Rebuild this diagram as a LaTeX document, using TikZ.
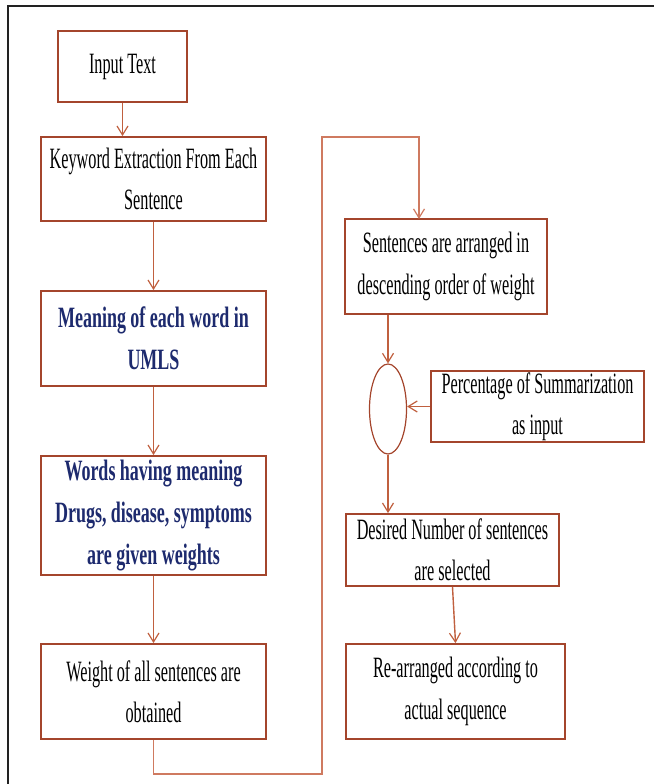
\documentclass[tikz,border=0pt]{standalone}
\usepackage{fontspec}
\setmainfont[FakeStretch=0.55]{Liberation Serif}
\newfontfamily\bluefont[FakeStretch=0.61]{Liberation Serif}
\usetikzlibrary{arrows.meta,shapes.geometric}
\definecolor{boxline}{HTML}{A4452C}
\definecolor{conn}{HTML}{C0603F}
\definecolor{loopc}{HTML}{CF7A60}
\definecolor{navy}{HTML}{1D2A6E}
\definecolor{frame}{HTML}{222222}
\tikzset{
  stepbox/.style={draw=boxline, line width=1.8pt, fill=white, align=center, inner sep=0pt,
    font=\fontsize{29.5}{41.5}\selectfont, text=black},
  bluebox/.style={stepbox, font=\bluefont\bfseries\fontsize{29.5}{42}\selectfont, text=navy},
  flow/.style={draw=conn, line width=1.4pt, -{Straight Barb[length=9pt,width=11pt,line width=1.2pt]}},
  loopflow/.style={flow, draw=loopc}
}
\begin{document}
\begin{tikzpicture}[x=1pt,y=-1pt]
\useasboundingbox (0,0) rectangle (654,784);
% outer frame (left and top edges)
\draw[frame, line width=2.2pt] (8,784) -- (8,6) -- (654,6);

\node[stepbox, minimum width=129pt, minimum height=71pt] (input) at (122.5,66.5) {Input Text};
\node[stepbox, minimum width=225pt, minimum height=84pt] (kw) at (153.5,179) {Keyword Extraction From Each\\Sentence};
\node[bluebox, minimum width=225pt, minimum height=95pt] (mean) at (153.5,338.5) {Meaning of each word in\\UMLS};
\node[bluebox, minimum width=225pt, minimum height=119pt] (words) at (153.5,515.5) {Words having meaning\\Drugs, disease, symptoms\\are given weights};
\node[stepbox, minimum width=225pt, minimum height=95pt] (weight) at (153.5,691.5) {Weight of all sentences are\\obtained};

\node[stepbox, minimum width=202pt, minimum height=95pt] (sent) at (446,266.5) {Sentences are arranged in\\descending order of weight};
\node[draw=boxline, line width=1.2pt, ellipse, minimum width=37pt, minimum height=90pt, inner sep=0pt] (circ) at (388,409) {};
\node[stepbox, minimum width=213pt, minimum height=71pt] (perc) at (537.5,406.5) {Percentage of Summarization\\as input};
\node[stepbox, minimum width=213pt, minimum height=72pt] (des) at (452.5,550) {Desired Number of sentences\\are selected};
\node[stepbox, minimum width=219pt, minimum height=95pt] (rearr) at (455.5,691.5) {Re-arranged according to\\actual sequence};

\coordinate (loopR) at (322,774);
\coordinate (loopT) at (322,137);
\coordinate (sentIn) at (419,219);

\draw[flow] (input.south) -- (input.south |- kw.north);
\draw[flow] (kw.south) -- (mean.north);
\draw[flow] (mean.south) -- (words.north);
\draw[flow] (words.south) -- (weight.north);
\draw[loopflow] (weight.south) |- (loopR) -- (loopT) -| (sentIn);
\draw[flow] (circ |- sent.south) -- (circ.north);
\draw[flow] (perc.west) -- (perc.west -| circ.east);
\draw[flow] (circ.south) -- (circ.south |- des.north);
\draw[flow] (des.south) -- (rearr.north);
\end{tikzpicture}
\end{document}
